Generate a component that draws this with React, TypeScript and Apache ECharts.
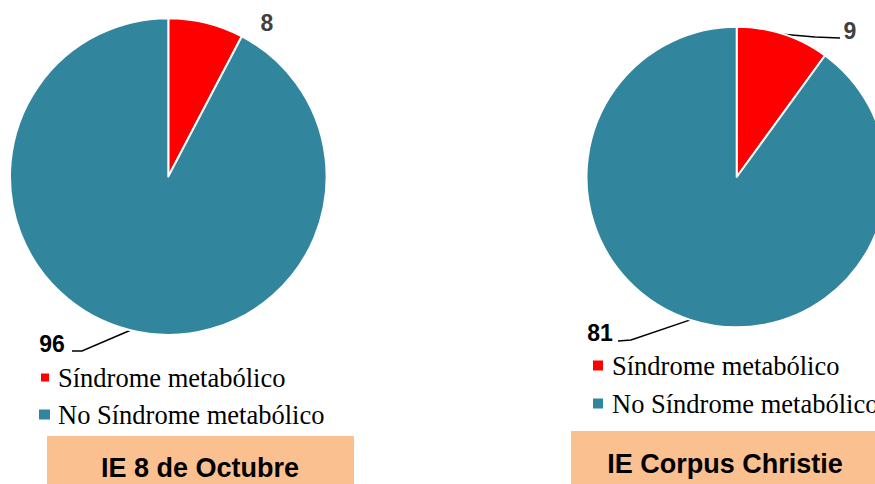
import React, { useEffect, useRef } from "react";
import * as echarts from "echarts";

const categories = ["Síndrome metabólico", "No Síndrome metabólico"];
const octubreValues = [8, 96];
const corpusValues = [9, 81];
const schoolNames = ["IE 8 de Octubre", "IE Corpus Christie"];

const sliceColors = ["#FF0000", "#31859C"];
const labelColors = ["#404040", "#000000"];

// label layout spots (pixel placement, not data)
const labelSpots = [
  [
    { x: 267, y: 23, line: null as null | number[][] },
    { x: 52, y: 344, line: [[82, 351], [72, 351]] },
  ],
  [
    { x: 850, y: 31, line: [[815, 37], [840, 38]] },
    { x: 600, y: 333, line: [[631, 340], [618, 341]] },
  ],
];

const SERIF = "Liberation Serif";
const SANS = "Liberation Sans";

export default function App() {
  const ref = useRef<HTMLDivElement>(null);
  useEffect(() => {
    document.body.style.margin = "0";
    const chart = echarts.init(ref.current!, undefined, { renderer: "svg" });

    const makeSeries = (idx: number, values: number[], center: number[], radius: number) => ({
      type: "pie",
      name: schoolNames[idx],
      center,
      radius,
      startAngle: 90,
      clockwise: true,
      avoidLabelOverlap: false,
      itemStyle: { borderColor: "#ffffff", borderWidth: 2 },
      label: {
        show: true,
        position: "outside",
        formatter: "{c}",
        fontFamily: SANS,
        fontWeight: "bold",
        fontSize: 23,
      },
      labelLine: { show: true, lineStyle: { color: "#000", width: 1.5 } },
      labelLayout: (p: any) => {
        const spot = labelSpots[idx][p.dataIndex];
        const res: any = { x: spot.x, y: spot.y, align: "center", verticalAlign: "middle" };
        if (spot.line && p.labelLinePoints) {
          res.labelLinePoints = [p.labelLinePoints[0], spot.line[0], spot.line[1]];
        }
        return res;
      },
      data: values.map((v, i) => ({
        name: categories[i],
        value: v,
        itemStyle: { color: sliceColors[i] },
        label: { color: labelColors[i] },
        labelLine: { show: labelSpots[idx][i].line !== null },
      })),
    });

    const mkLegend = (name: string, left: number, top: number, w: number, h: number, pad: number) => ({
      left,
      top,
      padding: 0,
      orient: "vertical",
      itemWidth: w,
      itemHeight: h,
      icon: "rect",
      selectedMode: false,
      data: [name],
      textStyle: {
        fontFamily: SERIF,
        fontSize: 26.5,
        lineHeight: 26,
        color: "#000",
        padding: [0, 0, 0, pad],
      },
    });

    chart.setOption({
      animation: false,
      legend: [
        mkLegend(categories[0], 39, 364, 10, 10, 3),
        mkLegend(categories[1], 37, 401, 13, 12, 2),
        mkLegend(categories[0], 591, 352, 12, 12, 3),
        mkLegend(categories[1], 591, 390, 12, 12, 3),
      ],
      series: [
        makeSeries(0, octubreValues, [168.3, 176.5], 158.3),
        makeSeries(1, corpusValues, [736.7, 177], 150.2),
      ],
      graphic: [
        { type: "rect", shape: { x: 47, y: 436, width: 307, height: 60 }, style: { fill: "#FAC090" } },
        {
          type: "text",
          x: 200,
          y: 467.5,
          style: {
            text: schoolNames[0],
            fill: "#000",
            fontFamily: SANS,
            fontWeight: "bold",
            fontSize: 27,
            textAlign: "center",
            textVerticalAlign: "middle",
          },
        },
        { type: "rect", shape: { x: 571, y: 431, width: 320, height: 60 }, style: { fill: "#FAC090" } },
        {
          type: "text",
          x: 725,
          y: 464,
          style: {
            text: schoolNames[1],
            fill: "#000",
            fontFamily: SANS,
            fontWeight: "bold",
            fontSize: 27,
            textAlign: "center",
            textVerticalAlign: "middle",
          },
        },
      ],
    });
    return () => chart.dispose();
  }, []);
  return <div ref={ref} style={{ width: 875, height: 484 }} />;
}
